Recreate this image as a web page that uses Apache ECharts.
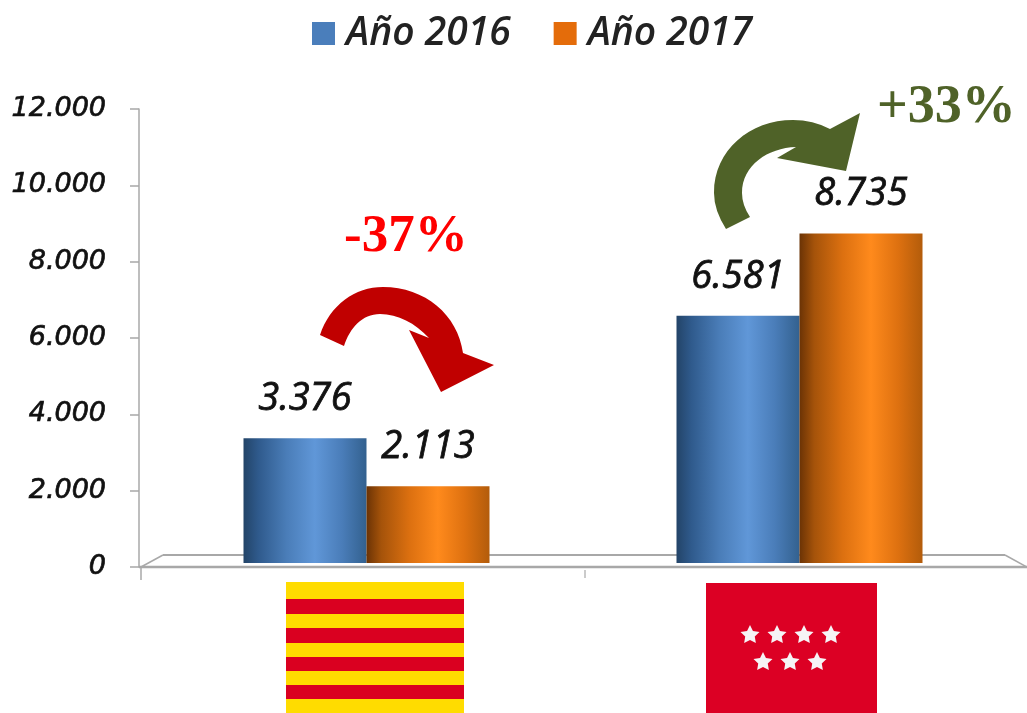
<!DOCTYPE html>
<html>
<head>
<meta charset="utf-8">
<style>html,body{margin:0;padding:0;background:#fff}#c{width:1027px;height:713px}</style>
<script src="https://cdn.jsdelivr.net/npm/echarts@6/dist/echarts.min.js"></script>
</head>
<body>
<div id="c"></div>
<script>
const categories = ['Cataluña', 'Madrid'];
const serie2016 = [3376, 6581];
const serie2017 = [2113, 8735];
const names = ['Año 2016', 'Año 2017'];
const yMax = 12000;
const yStep = 2000;
const changes = ['-37%', '+33%'];

const labelFont = '"Open Sans", sans-serif';
const thousands = v => v === 0 ? '0' : (v / 1000).toFixed(3);
const grad = stops => ({type:'linear',x:0,y:0,x2:1,y2:0,colorStops:stops.map(s=>({offset:s[0],color:s[1]}))});
const blueGrad = grad([[0,'#234468'],[0.12,'#2F5A8C'],[0.35,'#4A7DB8'],[0.58,'#6097D8'],[0.8,'#4A7DB9'],[1,'#33618F']]);
const orangeGrad = grad([[0,'#6B3305'],[0.12,'#A5530A'],[0.35,'#DC7010'],[0.58,'#FF8A1C'],[0.8,'#DE7110'],[1,'#B35C0B']]);

echarts.graphic.registerShape('arrowDown', echarts.graphic.extendPath('M320 335 C 330 305 355 287 383 287 C 425 287 458 315 463 353 L494 365 L441 392 L409 330 L429 338 C 415 323 398 314 380 314 C 362 314 350 328 344 346 Z', {}));
echarts.graphic.registerShape('arrowUp', echarts.graphic.extendPath('M726 229 Q 714 210 714 193 C 714 150 750 120 793 120 Q 813 120 830 129 L860 113 L846 171 L777 158 L796 147 C 768 148 742 165 742 193 Q 742 205 750 217 Z', {}));

function star(cx, cy, r) {
  const pts = [];
  for (let i = 0; i < 10; i++) {
    const a = -Math.PI / 2 + i * Math.PI / 5, q = i % 2 ? r * 0.5 : r;
    pts.push([cx + q * Math.cos(a), cy + q * Math.sin(a)]);
  }
  return {type:'polygon', z:5, shape:{points:pts}, style:{fill:'#F6F4F6'}};
}
const rect = (x,y,w,h,fill,z) => ({type:'rect', z:z||5, shape:{x,y,width:w,height:h}, style:{fill}});
const line = (x1,y1,x2,y2,w,z) => ({type:'line', z:z||1, shape:{x1,y1,x2,y2}, style:{stroke:'#A8A8A8',lineWidth:w}});

const catalan = [rect(286,582,178,131,'#FFDC00')];
[[599,15],[628,15],[657,14],[685,14]].forEach(s => catalan.push(rect(286,s[0],178,s[1],'#DA0020')));
const madrid = [rect(706,583,171,130,'#DC0024')];
[750,777,804,831].forEach(x => madrid.push(star(x,635,10)));
[763,790,817].forEach(x => madrid.push(star(x,662,10)));

const graphic = [
  // base plane
  line(141,567,163,555,1.5), line(163,555,1005,555,2), line(1005,555,1027,567,1.5),
  rect(200,563,770,4,'#ffffff',10),
  line(139,567,1027,567,2.5,11),
  line(141,567,141,580,1.5,11), line(585,570,585,578,1.2,11),
  // change arrows
  {type:'arrowDown', z:20, style:{fill:'#C00000'}},
  {type:'arrowUp', z:20, style:{fill:'#4F6228'}},
  {type:'text', z:20, x:344, y:211, style:{text:changes[0], fill:'#FF0000', font:'bold 53px "Liberation Serif", serif'}},
  {type:'text', z:20, x:877, y:81, style:{text:changes[1], fill:'#4F6228', font:'bold 54px "Liberation Serif", serif'}},
  ...catalan, ...madrid
];

const barLabel = {show:true, position:'top', distance:20, color:'#111', textBorderColor:'#111', textBorderWidth:0.8, fontFamily:labelFont, fontStyle:'italic', fontSize:38, formatter:p => thousands(p.value)};

const chart = echarts.init(document.getElementById('c'));
chart.setOption({
  animation:false,
  backgroundColor:'#fff',
  legend:{
    left:307, top:9, itemWidth:23, itemHeight:23, itemGap:43,
    data:[{name:names[0], icon:'rect', itemStyle:{color:'#4A7EBB'}},{name:names[1], icon:'rect', itemStyle:{color:'#E46C0A'}}],
    textStyle:{color:'#222', fontFamily:labelFont, fontStyle:'italic', fontWeight:600, fontSize:39, padding:[0,0,0,6]}
  },
  grid:{left:150, top:109, width:866, height:458},
  xAxis:{type:'category', data:categories, axisLine:{show:false}, axisTick:{show:false}, axisLabel:{show:false}},
  yAxis:{
    type:'value', min:0, max:yMax, interval:yStep, offset:11,
    splitLine:{show:false},
    axisLine:{show:true, lineStyle:{color:'#A8A8A8', width:1.5}},
    axisTick:{show:true, length:9, lineStyle:{color:'#A8A8A8', width:1.5}},
    axisLabel:{margin:33, padding:[6,0,0,0], formatter:thousands, color:'#111', textBorderColor:'#111', textBorderWidth:0.7, fontFamily:'"DejaVu Sans", sans-serif', fontStyle:'italic', fontSize:27}
  },
  graphic:{elements:graphic},
  series:[
    {name:names[0], type:'bar', data:serie2016, barWidth:123, barGap:0, itemStyle:{color:blueGrad}, label:barLabel},
    {name:names[1], type:'bar', data:serie2017, barWidth:123, barGap:0, itemStyle:{color:orangeGrad}, label:barLabel}
  ]
});
</script>
</body>
</html>
